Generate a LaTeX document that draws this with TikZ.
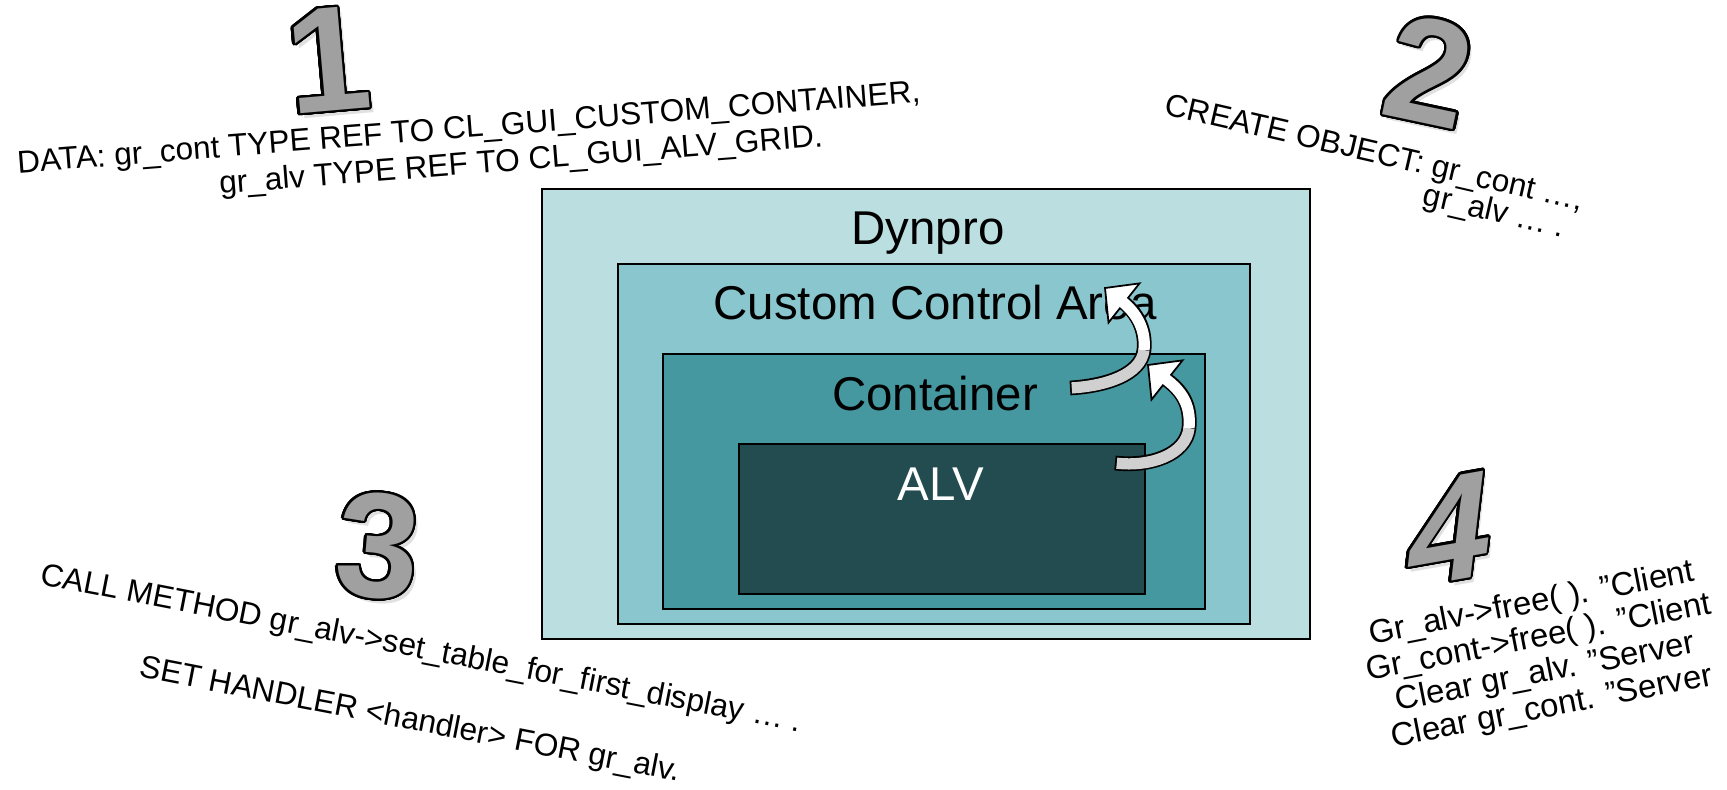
\documentclass[tikz,border=0pt]{standalone}
\usepackage{fontspec}
\setmainfont{Liberation Sans}
\usepackage{contour}
\usetikzlibrary{calc}
\contourlength{1.3pt}
\contournumber{32}
\definecolor{dynprofill}{RGB}{187,222,225}
\definecolor{ccafill}{RGB}{138,198,205}
\definecolor{contfill}{RGB}{70,152,160}
\definecolor{alvfill}{RGB}{35,76,81}
\definecolor{digitgray}{RGB}{160,160,160}
\definecolor{tailgray}{RGB}{208,208,208}
\newcommand{\stepdigit}[1]{\contour{black}{\textcolor{digitgray}{#1}}}

\begin{document}
\begin{tikzpicture}[x=0.02cm, y=-0.02cm,
  area/.style={draw=black, line width=1.1pt},
  arealabel/.style={font=\fontsize{27}{30}\selectfont, inner sep=0pt, anchor=base},
  codeline/.style={font=\fontsize{18}{21}\selectfont, inner sep=0pt},
  stepnum/.style={font=\fontsize{85}{85}\selectfont\bfseries, inner sep=0pt},
  stepshadow/.style={stepnum, text=black, opacity=0.12},
  rim/.style={draw=black, line width=8.4pt},
  ribbon/.style={line width=6.4pt},
  arrowhead/.style={draw=black, fill=white, line width=1pt, line join=miter}]
\useasboundingbox (0,0) rectangle (1727,790);
% nested areas
\draw[area, fill=dynprofill] (542,189) rectangle (1310,639);
\draw[area, fill=ccafill] (618,264) rectangle (1250,624);
\draw[area, fill=contfill] (663,354) rectangle (1205,609);
\draw[area, fill=alvfill] (739,444) rectangle (1145,594);
\node[arealabel] (dynpro) at (928,245) {Dynpro};
\node[arealabel] (cca) at (935,320) {Custom Control Area};
\node[arealabel] (cont) at (935,410) {Container};
\node[arealabel, text=white] (alv) at (941,500) {ALV};
% curved arrows
\coordinate (conttail) at (1070,388);
\coordinate (contbend) at (1144,350);
\coordinate (conthead) at (1124,303);
\coordinate (conttip) at (1105,288);
\coordinate (alvtail) at (1115,463);
\coordinate (alvbend) at (1189,428);
\coordinate (alvhead) at (1167,380);
\coordinate (alvtip) at (1148,365);
\draw[rim] (conttail) .. controls +(35,-2) and +(-3,25) .. (contbend)
  .. controls +(2,-20) and +(13,10) .. (conthead);
\draw[arrowhead] (conttip) -- ($(conthead)!0.5cm!90:(conttip)$) -- ($(conthead)!0.5cm!-90:(conttip)$) -- cycle;
\draw[ribbon, tailgray, shorten <=1pt] (conttail) .. controls +(35,-2) and +(-3,25) .. (contbend);
\draw[ribbon, white, shorten >=-2pt] (contbend) .. controls +(2,-20) and +(13,10) .. (conthead);
\draw[rim] (alvtail) .. controls +(35,4) and +(-3,27) .. (alvbend)
  .. controls +(2,-23) and +(15,11) .. (alvhead);
\draw[arrowhead] (alvtip) -- ($(alvhead)!0.5cm!90:(alvtip)$) -- ($(alvhead)!0.5cm!-90:(alvtip)$) -- cycle;
\draw[ribbon, tailgray, shorten <=1pt] (alvtail) .. controls +(35,4) and +(-3,27) .. (alvbend);
\draw[ribbon, white, shorten >=-2pt] (alvbend) .. controls +(2,-23) and +(15,11) .. (alvhead);
% step numbers
\node[stepshadow, rotate=5] at (332,65) {1};
\node[stepnum, rotate=5] (one) at (328,61) {\stepdigit{1}};
\node[stepshadow, rotate=-12] at (1433,76) {2};
\node[stepnum, rotate=-12] (two) at (1429,72) {\stepdigit{2}};
\node[stepshadow, rotate=-5] at (382,551) {3};
\node[stepnum, rotate=-5] (three) at (378,547) {\stepdigit{3}};
\node[stepshadow, rotate=10, xslant=0.3] at (1454,534) {4};
\node[stepnum, rotate=10, xslant=0.3] (four) at (1450,530) {\stepdigit{4}};
% code texts
\node[codeline, rotate=4.5] (data1) at (469,130) {DATA: gr\_cont TYPE REF TO CL\_GUI\_CUSTOM\_CONTAINER,};
\node[codeline, rotate=4.5] (data2) at (521,162) {gr\_alv TYPE REF TO CL\_GUI\_ALV\_GRID.};
\node[codeline, rotate=-13] (create1) at (1374,155) {CREATE OBJECT: gr\_cont …,};
\node[codeline, rotate=-13] (create2) at (1494,213) {gr\_alv … .};
\node[codeline, rotate=-11] (call) at (421,650) {CALL METHOD gr\_alv->set\_table\_for\_first\_display … .};
\node[codeline, rotate=-11] (handler) at (410,721) {SET HANDLER <handler> FOR gr\_alv.};
\node[codeline, font=\fontsize{18.7}{20}\selectfont, rotate=11, align=center] (free) at (1542,656)
  {Gr\_alv->free( ). ”Client\\Gr\_cont->free( ). ”Client\\Clear gr\_alv. ”Server\\Clear gr\_cont. ”Server};
\end{tikzpicture}
\end{document}
